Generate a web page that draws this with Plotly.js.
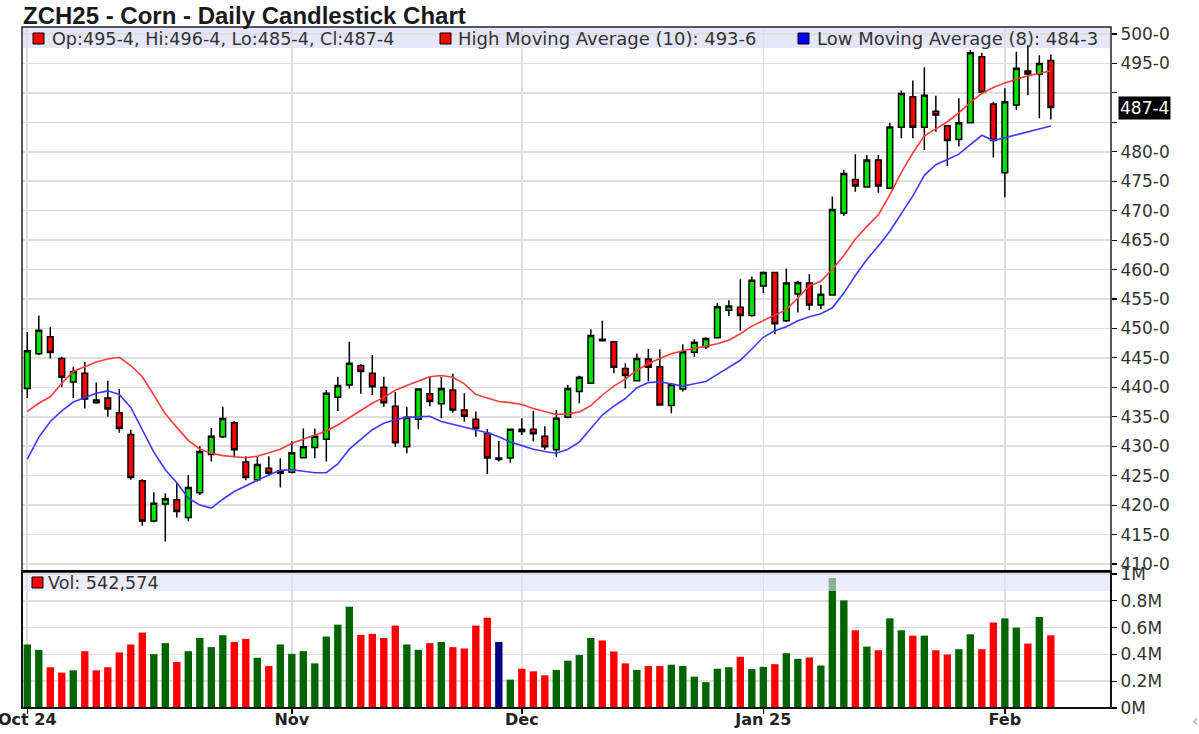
<!DOCTYPE html>
<html><head><meta charset="utf-8">
<script src="https://cdn.plot.ly/plotly-3.0.1.min.js"></script>
<style>html,body{margin:0;padding:0;background:#fff;}#chart{width:1199px;height:734px;}</style>
</head><body><div id="chart"></div>
<script>
// ---------- data ----------
const dates = [
 '2024-10-01','2024-10-02','2024-10-03','2024-10-04','2024-10-07','2024-10-08','2024-10-09','2024-10-10','2024-10-11',
 '2024-10-14','2024-10-15','2024-10-16','2024-10-17','2024-10-18','2024-10-21','2024-10-22','2024-10-23','2024-10-24',
 '2024-10-25','2024-10-28','2024-10-29','2024-10-30','2024-10-31',
 '2024-11-01','2024-11-04','2024-11-05','2024-11-06','2024-11-07','2024-11-08','2024-11-11','2024-11-12','2024-11-13',
 '2024-11-14','2024-11-15','2024-11-18','2024-11-19','2024-11-20','2024-11-21','2024-11-22','2024-11-25','2024-11-26',
 '2024-11-27','2024-11-29',
 '2024-12-02','2024-12-03','2024-12-04','2024-12-05','2024-12-06','2024-12-09','2024-12-10','2024-12-11','2024-12-12',
 '2024-12-13','2024-12-16','2024-12-17','2024-12-18','2024-12-19','2024-12-20','2024-12-23','2024-12-24','2024-12-26',
 '2024-12-27','2024-12-30','2024-12-31',
 '2025-01-02','2025-01-03','2025-01-06','2025-01-07','2025-01-08','2025-01-09','2025-01-10','2025-01-13','2025-01-14',
 '2025-01-15','2025-01-16','2025-01-17','2025-01-21','2025-01-22','2025-01-23','2025-01-24','2025-01-27','2025-01-28',
 '2025-01-29','2025-01-30','2025-01-31',
 '2025-02-03','2025-02-04','2025-02-05','2025-02-06','2025-02-07'
];
const openP = [
 439.8,445.7,448.6,444.9,440.9,442.4,437.4,438.2,435.7,432.0,424.15,417.3,420.2,420.9,417.9,422.1,428.6,431.6,434.0,427.3,
 424.3,426.25,425.4,425.6,428.05,429.8,431.2,438.3,440.4,443.7,442.4,440.0,436.8,429.9,434.6,438.9,437.2,439.55,436.15,434.6,
 432.2,427.75,428.0,432.9,432.9,431.7,429.4,434.9,439.3,440.7,447.9,447.75,443.2,441.1,444.8,443.5,436.9,439.7,445.95,446.9,
 448.4,453.1,453.6,452.2,457.2,459.5,451.3,455.85,457.7,454.0,455.7,469.55,475.3,474.0,478.6,473.8,484.15,489.35,484.15,486.9,
 484.4,482.1,484.95,496.15,488.1,476.45,487.95,493.7,493.15,495.5
];
const highP = [
 449.4,452.2,450.3,445.2,443.5,444.3,440.8,441.1,439.7,432.8,424.4,422.2,422.0,423.8,425.1,430.0,433.1,436.7,434.3,428.3,
 428.3,428.3,427.95,430.9,433.0,433.0,439.55,441.8,447.75,443.9,445.5,441.8,439.2,436.7,439.8,441.8,441.8,442.3,439.0,435.9,
 432.9,430.9,432.9,434.75,436.0,433.4,436.15,440.4,441.95,449.85,451.3,447.75,444.1,445.7,446.5,446.45,440.7,447.3,448.15,448.5,
 454.3,454.8,458.35,458.8,459.65,459.5,460.2,458.1,459.2,457.4,472.4,476.9,479.6,479.45,479.45,484.95,490.4,492.1,494.35,489.5,
 484.4,489.1,497.3,496.8,488.5,490.8,497.0,498.1,496.4,496.5
];
const lowP = [
 438.2,445.5,444.9,440.0,438.2,436.4,437.2,435.0,432.3,424.3,416.5,417.1,413.8,417.9,417.25,421.7,427.4,431.4,428.1,424.2,
 424.0,424.95,423.0,425.4,427.95,427.95,427.4,436.0,439.8,438.9,438.7,436.7,429.9,428.8,432.9,436.8,434.75,435.7,434.2,431.6,
 425.3,427.4,427.2,431.9,430.8,429.4,428.2,434.75,437.3,440.6,447.9,442.4,439.8,441.1,441.0,437.0,435.6,439.3,445.2,446.5,
 448.3,452.1,449.6,452.0,456.0,449.05,451.1,452.7,453.1,453.25,455.7,469.1,473.2,474.0,473.05,473.8,482.3,482.3,480.3,483.4,
 477.6,480.9,484.95,489.9,479.05,472.3,487.1,489.6,485.7,485.5
];
const closeP = [
 446.2,449.7,445.9,441.7,442.7,438.0,437.85,436.3,433.0,424.7,417.3,420.3,421.1,418.9,423.0,429.1,431.7,434.7,429.4,424.7,
 426.9,425.4,425.8,428.9,429.9,431.7,439.0,440.3,444.1,442.7,440.1,437.4,430.6,434.9,439.7,437.6,439.8,436.15,435.1,433.0,
 428.0,428.0,432.9,432.5,432.1,429.9,434.75,439.8,441.7,448.8,448.15,443.4,442.0,444.9,443.4,437.0,440.5,446.05,447.65,448.3,
 453.7,453.8,452.2,458.2,459.5,450.8,457.7,457.8,454.0,455.8,470.2,476.3,474.2,478.6,474.2,484.2,489.9,484.15,489.6,486.25,
 481.9,484.95,496.8,490.1,481.9,488.5,494.2,493.2,495.0,487.5
];
const volume = [
 474000,434000,304000,264000,281000,424000,281000,304000,415000,474000,563000,402000,484000,343000,424000,523000,454000,543000,493000,516000,
 375000,313000,474000,404000,424000,333000,533000,622000,756000,545000,553000,523000,615000,474000,434000,484000,493000,454000,444000,615000,
 674000,493000,212000,293000,274000,244000,284000,353000,395000,523000,504000,422000,333000,284000,313000,313000,323000,313000,234000,193000,
 293000,304000,382000,290000,307000,327000,409000,367000,377000,317000,971000,803000,580000,458000,431000,669000,580000,540000,540000,431000,
 399000,439000,550000,439000,639000,669000,600000,481000,679000,542574
];
const highMA10 = [
 435.9,437.3,438.4,440.7,442.7,443.5,444.3,444.8,445.1,443.7,441.8,438.7,435.5,433.2,431.0,429.5,428.8,428.4,428.2,428.05,
 428.3,428.9,429.5,430.5,431.2,431.8,432.6,433.6,434.8,436.0,437.3,438.3,439.5,440.3,441.1,441.8,442.0,441.7,440.6,438.8,
 438.2,437.6,437.4,437.1,436.4,435.9,435.4,435.5,435.8,436.9,438.7,440.2,441.4,442.9,444.0,444.9,445.7,446.2,446.6,446.9,
 447.4,448.0,449.1,450.4,451.3,452.2,453.2,455.2,457.2,458.0,460.0,462.4,465.2,467.3,469.3,472.7,476.5,479.8,482.7,483.9,
 485.1,486.6,488.4,489.9,490.9,491.7,492.3,492.9,493.3,493.75
];
const lowMA8 = [
 427.8,431.5,434.2,436.0,437.5,438.3,439.0,439.4,438.8,436.6,432.8,429.0,426.0,423.8,421.2,420.0,419.5,421.0,422.3,423.3,
 424.2,425.1,425.9,426.0,425.7,425.5,425.5,427.0,429.5,431.1,432.8,433.9,434.5,434.9,435.0,435.1,434.2,433.7,433.3,432.7,
 432.3,431.6,430.7,430.1,429.5,429.1,428.8,429.5,430.7,433.0,435.3,436.8,438.1,439.9,440.8,440.95,440.6,440.2,440.6,441.0,
 442.2,443.4,444.6,446.5,448.5,449.6,450.3,451.3,452.0,452.5,453.5,456.0,459.0,461.7,464.0,466.5,469.5,472.5,476.0,477.8,
 478.7,479.6,481.2,482.8,481.9,482.4,482.9,483.4,483.9,484.375
];
const tickDates = ['2024-10-01','2024-11-01','2024-12-02','2025-01-02','2025-02-03'];
const tickLabels = ['Oct 24','Nov','Dec','Jan 25','Feb'];
const priceTicks = [410,415,420,425,430,435,440,445,450,455,460,465,470,475,480,485,490,495,500];
const priceTickLabels = ['410-0','415-0','420-0','425-0','430-0','435-0','440-0','445-0','450-0','455-0','460-0','465-0','470-0','475-0','480-0','','','495-0','500-0'];
const volTicks = [0,200000,400000,600000,800000,1000000];
const volTickLabels = ['0M','0.2M','0.4M','0.6M','0.8M','1M'];
const lastBar = {open:'495-4', high:'496-4', low:'485-4', close:'487-4', closeValue:487.5};
const highMALast = '493-6';
const lowMALast = '484-3';
const lastVolume = '542,574';

// ---------- layout helpers ----------
const W = 1199, H = 734;
const px = x => x / W;
const py = y => 1 - y / H;

const UP = '#00e600', DOWN = '#ff0000';
const volColors = closeP.map((c, i) => {
  if (i === 0) return '#006400';
  if (c > closeP[i-1]) return '#006400';
  if (c < closeP[i-1]) return '#ff0000';
  return '#000080';
});

const traces = [
  {
    type: 'candlestick', x: dates, open: openP, high: highP, low: lowP, close: closeP,
    xaxis: 'x', yaxis: 'y', whiskerwidth: 0, width: 0.72,
    increasing: {line: {color: '#000', width: 1.5}, fillcolor: UP},
    decreasing: {line: {color: '#000', width: 1.5}, fillcolor: DOWN},
    hoverinfo: 'skip'
  },
  {type: 'scatter', mode: 'lines', x: dates, y: highMA10, xaxis: 'x', yaxis: 'y',
   line: {color: '#ff3b3b', width: 1.6}, hoverinfo: 'skip'},
  {type: 'scatter', mode: 'lines', x: dates, y: lowMA8, xaxis: 'x', yaxis: 'y',
   line: {color: '#3b3bff', width: 1.6}, hoverinfo: 'skip'},
  {type: 'bar', x: dates, y: volume, xaxis: 'x', yaxis: 'y2', width: 0.64,
   marker: {color: volColors, line: {width: 0}}, hoverinfo: 'skip'}
];

const tickFont = {family: 'DejaVu Sans, Arial, sans-serif', size: 17, color: '#333'};
const legFont = {family: 'DejaVu Sans, Arial, sans-serif', size: 18, color: '#333'};

const shapes = [
  // legend bands
  {type: 'rect', xref: 'paper', yref: 'paper', x0: px(23), x1: px(1110), y0: py(48), y1: py(28),
   fillcolor: '#e6e6fa', line: {width: 0}, layer: 'below'},
  {type: 'rect', xref: 'paper', yref: 'paper', x0: px(23), x1: px(1110), y0: py(591), y1: py(573.5),
   fillcolor: 'rgba(225,225,250,0.62)', line: {width: 0}, layer: 'above'},
  // frames
  {type: 'rect', xref: 'paper', yref: 'paper', x0: px(22), x1: px(1111), y0: py(571), y1: py(27),
   line: {color: '#222', width: 1.5}, fillcolor: 'rgba(0,0,0,0)'},
  {type: 'rect', xref: 'paper', yref: 'paper', x0: px(22), x1: px(1111), y0: py(708), y1: py(571),
   line: {color: '#111', width: 2}, fillcolor: 'rgba(0,0,0,0)'},
  {type: 'line', xref: 'paper', yref: 'paper', x0: px(22), x1: px(1111), y0: py(571.5), y1: py(571.5),
   line: {color: '#000', width: 2.5}},
  // legend swatches
  {type: 'rect', xref: 'paper', yref: 'paper', x0: px(33), x1: px(44), y0: py(44), y1: py(33),
   fillcolor: '#ff0000', line: {color: '#000', width: 1}},
  {type: 'rect', xref: 'paper', yref: 'paper', x0: px(440), x1: px(451), y0: py(44), y1: py(33),
   fillcolor: '#ff0000', line: {color: '#000', width: 1}},
  {type: 'rect', xref: 'paper', yref: 'paper', x0: px(798), x1: px(809), y0: py(44), y1: py(33),
   fillcolor: '#0000ff', line: {color: '#000', width: 1}},
  {type: 'rect', xref: 'paper', yref: 'paper', x0: px(32), x1: px(43), y0: py(588), y1: py(577),
   fillcolor: '#ff0000', line: {color: '#000', width: 1}}
];

const annotations = [
  {text: '<b>ZCH25 - Corn - Daily Candlestick Chart</b>', xref: 'paper', yref: 'paper', x: px(21), y: py(16),
   xanchor: 'left', yanchor: 'middle', showarrow: false,
   font: {family: 'Liberation Sans, Arial, sans-serif', size: 24, color: '#1a1a1a'}},
  {text: 'Op:' + lastBar.open + ', Hi:' + lastBar.high + ', Lo:' + lastBar.low + ', Cl:' + lastBar.close,
   xref: 'paper', yref: 'paper', x: px(50), y: py(38.5), xanchor: 'left', yanchor: 'middle', showarrow: false,
   font: {family: 'DejaVu Sans, Arial, sans-serif', size: 17.6, color: '#333'}},
  {text: 'High Moving Average (10): ' + highMALast,
   xref: 'paper', yref: 'paper', x: px(456), y: py(38.5), xanchor: 'left', yanchor: 'middle', showarrow: false, font: legFont},
  {text: 'Low Moving Average (8): ' + lowMALast,
   xref: 'paper', yref: 'paper', x: px(815), y: py(38.5), xanchor: 'left', yanchor: 'middle', showarrow: false, font: legFont},
  {text: 'Vol: ' + lastVolume,
   xref: 'paper', yref: 'paper', x: px(46), y: py(582.5), xanchor: 'left', yanchor: 'middle', showarrow: false,
   font: {family: 'DejaVu Sans, Arial, sans-serif', size: 17.6, color: '#333'}},
  {text: lastBar.close, xref: 'paper', yref: 'y', x: px(1118), y: lastBar.closeValue,
   xanchor: 'left', yanchor: 'middle', showarrow: false, bgcolor: '#000', borderpad: 1,
   font: {family: 'DejaVu Sans, Arial, sans-serif', size: 17, color: '#ffffff'}},
  {text: '‹', xref: 'paper', yref: 'paper', x: px(1190), y: py(720), xanchor: 'left', yanchor: 'middle',
   showarrow: false, font: {family: 'DejaVu Sans', size: 16, color: '#aaa'}}
];

const layout = {
  width: W, height: H, margin: {l: 0, r: 0, t: 0, b: 0},
  paper_bgcolor: '#fff', plot_bgcolor: '#fff', showlegend: false,
  font: {family: 'DejaVu Sans, Arial, sans-serif', color: '#333'},
  xaxis: {
    type: 'category', domain: [px(22), px(1111)], range: [-0.46, 94.23], anchor: 'y2',
    tickmode: 'array', tickvals: tickDates, ticktext: tickLabels,
    showgrid: true, gridcolor: '#dedede', gridwidth: 1.6, zeroline: false, showline: false,
    ticks: 'outside', ticklen: 5, tickcolor: '#000', tickwidth: 1.5, ticklabelstandoff: -8,
    tickfont: {family: 'DejaVu Sans, Arial, sans-serif', size: 16, color: '#222', weight: 'bold'},
    rangeslider: {visible: false}, fixedrange: true
  },
  yaxis: {
    domain: [py(571), py(27)], range: [408.81, 501.19], side: 'right', anchor: 'x',
    tickmode: 'array', tickvals: priceTicks, ticktext: priceTickLabels,
    ticks: 'outside', ticklen: 5, tickcolor: '#000', tickwidth: 1.2,
    showgrid: true, gridcolor: '#dedede', gridwidth: 1.6, zeroline: false, showline: false,
    tickfont: tickFont, fixedrange: true
  },
  yaxis2: {
    domain: [py(708), py(571)], range: [0, 1022400], side: 'right', anchor: 'x',
    tickmode: 'array', tickvals: volTicks, ticktext: volTickLabels,
    ticks: 'outside', ticklen: 5, tickcolor: '#000', tickwidth: 1.2,
    showgrid: true, gridcolor: '#dedede', gridwidth: 1.6, zeroline: false, showline: false,
    tickfont: tickFont, fixedrange: true
  },
  shapes: shapes,
  annotations: annotations
};

Plotly.newPlot('chart', traces, layout, {staticPlot: true, displayModeBar: false});
</script>
</body></html>
